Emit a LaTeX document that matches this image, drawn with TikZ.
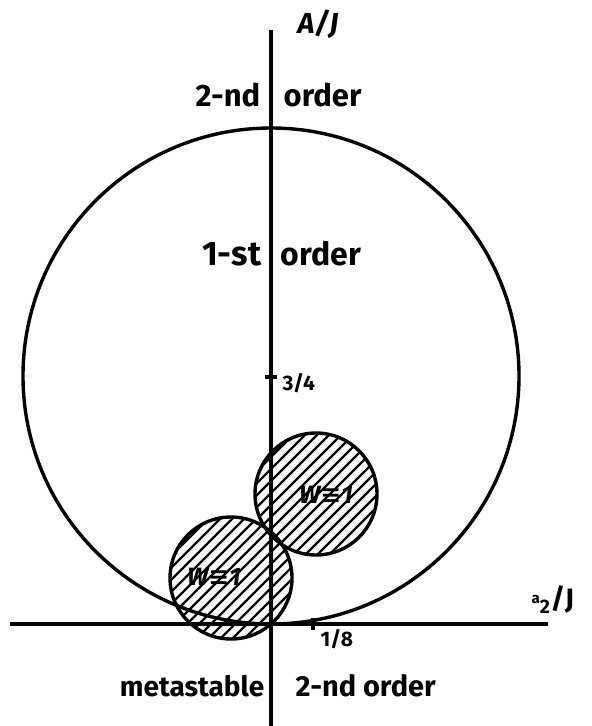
\documentclass[tikz,border=0pt]{standalone}
\usepackage{fontspec}
\setmainfont{Fira Sans}
\newfontfamily\symfont{DejaVu Sans}
\begin{document}
\begin{tikzpicture}[x=1pt,y=-1pt,line width=3.4pt,
  lbl/.style={inner sep=0pt,font=\fontsize{31}{36}\selectfont\bfseries},
  small/.style={inner sep=0pt,font=\fontsize{21}{24}\selectfont\bfseries},
  wlbl/.style={inner sep=0pt,font=\fontsize{25}{28}\selectfont\bfseries\itshape},
  hatchc/.style={circle,draw,line width=3.4pt,minimum size=122pt,inner sep=0pt,
    path picture={\foreach \d in {-190,-178,...,190}
      {\draw[line width=2.2pt,shift={(path picture bounding box.center)}] (-100,100+\d) -- ++(200,-200);}}}]
\useasboundingbox (0,0) rectangle (592,726);
\coordinate (Atop) at (271,30);
\coordinate (Abot) at (271,726);
\coordinate (Xl) at (10,624);
\coordinate (Xr) at (548,624);
\coordinate (O) at (271,624);
\node[circle,draw,line width=3.4pt,minimum size=496pt,inner sep=0pt] (big) at (271,376) {};
\node[hatchc] (c1) at (316,494) {};
\node[hatchc] (c2) at (231,578) {};
\draw (Atop) -- (Abot);
\draw (Xl) -- (Xr);
\coordinate (t34a) at (265,377); \coordinate (t34b) at (277,377);
\draw (t34a) -- (t34b);
\coordinate (t18a) at (313,618); \coordinate (t18b) at (313,630);
\draw (t18a) -- (t18b);
\node[lbl,font=\fontsize{29}{32}\selectfont\bfseries\itshape,anchor=west] (ay) at (296,24) {A/J};
\node[lbl,anchor=east] (n2a) at (262,95) {2-nd};
\node[lbl,anchor=west] (n2b) at (282,95) {order};
\node[lbl,font=\fontsize{34}{40}\selectfont\bfseries,anchor=east] (n1a) at (263,254) {1-st};
\node[lbl,font=\fontsize{32}{40}\selectfont\bfseries,anchor=west] (n1b) at (279,254) {order};
\node[small,anchor=west] (q34) at (281,383) {3/4};
\node[small,anchor=west] (q18) at (319,639) {1/8};
\node[lbl,font=\fontsize{28}{30}\selectfont\bfseries,anchor=west] (a2) at (530,600) {\raisebox{5pt}{\fontsize{15}{16}\selectfont a}\textsubscript{2}/J};
\node[wlbl] (w1) at (326,495) {W{\symfont\bfseries ≡}1};
\node[wlbl] (w2) at (214,577) {W{\symfont\bfseries ≡}1};
\node[lbl,font=\fontsize{28}{34}\selectfont\bfseries,anchor=east] (meta) at (266,686) {metastable};
\node[lbl,font=\fontsize{29}{34}\selectfont\bfseries,anchor=west] (n3) at (294,686) {2-nd order};
\end{tikzpicture}
\end{document}
